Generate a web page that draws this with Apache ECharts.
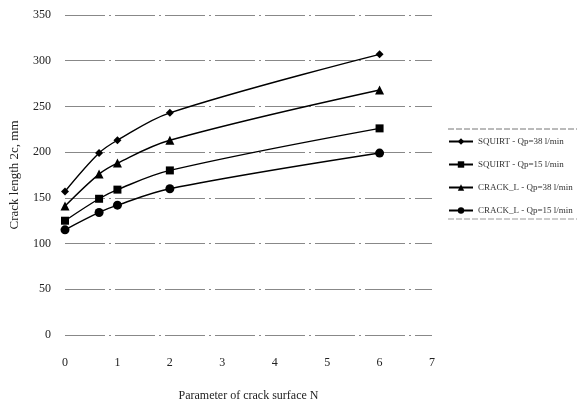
<!DOCTYPE html>
<html><head><meta charset="utf-8">
<script src="https://cdn.jsdelivr.net/npm/echarts@6/dist/echarts.min.js"></script>
<style>html,body{margin:0;padding:0;background:#fff}#c{width:577px;height:409px}</style>
</head><body><div id="c"></div>
<script>
const xValues = [0, 0.65, 1, 2, 6];
const squirt38 = [157, 199, 213, 243, 307];
const squirt15 = [125, 149, 159, 180, 226];
const crack38 = [141, 176, 188, 213, 268];
const crack15 = [115, 134, 142, 160, 199];
const seriesNames = ['SQUIRT - Qp=38 l/min', 'SQUIRT - Qp=15 l/min', 'CRACK_L - Qp=38 l/min', 'CRACK_L - Qp=15 l/min'];
const seriesData = [squirt38, squirt15, crack38, crack15];
const symbols = ['diamond', 'rect', 'triangle', 'circle'];
const symbolSizes = [8, 8, 9, 9];

const font = 'Liberation Serif, DejaVu Serif, serif';
const chart = echarts.init(document.getElementById('c'), null, {renderer: 'canvas'});
chart.setOption({
  backgroundColor: '#fff',
  animation: false,
  textStyle: {fontFamily: font},
  grid: {left: 64, right: 145, top: 15, bottom: 74},
  xAxis: {
    type: 'value', min: 0, max: 7, interval: 1,
    name: 'Parameter of crack surface N', nameLocation: 'middle', nameGap: 55,
    nameTextStyle: {fontFamily: font, fontSize: 12, color: '#222'},
    axisLine: {show: false}, axisTick: {show: false}, splitLine: {show: false},
    axisLabel: {fontFamily: font, fontSize: 12, color: '#222', margin: 22}
  },
  yAxis: {
    type: 'value', min: 0, max: 350, interval: 50,
    name: 'Crack length 2c, mm', nameLocation: 'middle', nameGap: 44, nameRotate: 90,
    nameTextStyle: {fontFamily: font, fontSize: 13, color: '#222'},
    axisLine: {show: false}, axisTick: {show: false},
    axisLabel: {fontFamily: font, fontSize: 12, color: '#222', margin: 14},
    splitLine: {lineStyle: {color: '#888', width: 1, type: [40, 4, 2, 4]}}
  },
  legend: {
    orient: 'vertical', left: 443, top: 132, itemGap: 14,
    itemWidth: 24, itemHeight: 8,
    textStyle: {fontFamily: font, fontSize: 9, color: '#333'},
    data: seriesNames
  },
  graphic: [
    {type: 'line', shape: {x1: 448, y1: 129, x2: 577, y2: 129}, style: {stroke: '#777', lineWidth: 1, lineDash: [6, 2]}},
    {type: 'line', shape: {x1: 448, y1: 219, x2: 577, y2: 219}, style: {stroke: '#999', lineWidth: 1, lineDash: [6, 2]}}
  ],
  series: seriesNames.map((n, i) => ({
    name: n, type: 'line', smooth: 0.35,
    data: xValues.map((x, j) => [x, seriesData[i][j]]),
    symbol: symbols[i], symbolSize: symbolSizes[i],
    lineStyle: {color: '#000', width: 1.4},
    itemStyle: {color: '#000'}
  }))
});
</script></body></html>
